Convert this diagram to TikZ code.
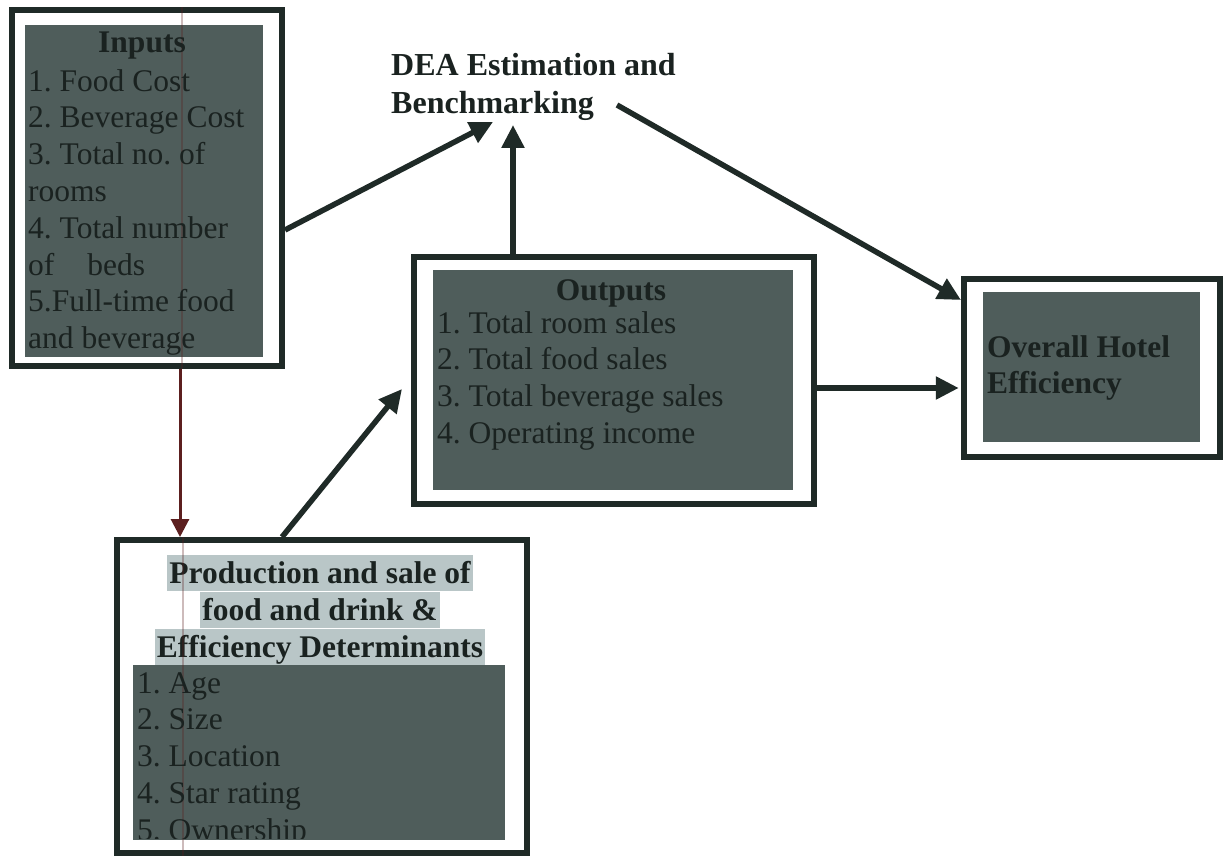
\documentclass[tikz,border=0pt]{standalone}
\usepackage{fontspec}
\setmainfont{Liberation Serif}
\usetikzlibrary{arrows.meta}
\definecolor{framec}{HTML}{1F2A27}
\definecolor{fillc}{HTML}{4F5D5B}
\definecolor{txtc}{HTML}{1A2220}
\definecolor{hlc}{HTML}{B9C6C7}
\definecolor{redc}{HTML}{5C1F1F}
\frenchspacing
\tikzset{
 frame/.style={draw=framec, line width=6pt, fill=white, inner sep=0pt},
 darkfill/.style={fill=fillc, draw=none, inner sep=0pt},
 body/.style={font=\fontsize{31.5}{36.8}\selectfont\frenchspacing, text=txtc, inner sep=0pt, align=left},
 bodyb/.style={body, font=\fontsize{31.5}{36.8}\selectfont\bfseries},
 hl/.style={bodyb, fill=hlc, text height=28pt, text depth=8pt, inner xsep=2pt, inner ysep=0pt},
 conn/.style={draw=framec, line width=5.5pt, -{Triangle[length=23pt,width=22pt]}},
 redconn/.style={draw=redc, line width=3pt, -{Triangle[length=18pt,width=18pt]}},
 faint/.style={draw=redc, opacity=0.3, line width=1.5pt},
}
\begin{document}
\begin{tikzpicture}[x=1pt,y=-1pt]
\useasboundingbox (0,0) rectangle (1227,856);
\fill[white] (0,0) rectangle (1227,856);

% Inputs box (multi-line nodes are placed by the baseline of their last line)
\node[frame, minimum width=270pt, minimum height=356pt] (inF) at (147,188) {};
\node[darkfill, minimum width=238pt, minimum height=332pt] (inB) at (144,191) {};
\draw[faint] (inF.north -| 182,0) -- (inF.south -| 182,0);
\node[bodyb, anchor=base] (inT) at (142,53) {Inputs};
\node[body, anchor=base west] (inL) at (28,348.6) {1. Food Cost\\2. Beverage Cost\\3. Total no. of\\rooms\\4. Total number\\of\hspace{33pt}beds\\5.Full-time food\\and beverage};

% Outputs box
\node[frame, minimum width=400pt, minimum height=247pt] (outF) at (613.5,380) {};
\node[darkfill, minimum width=360pt, minimum height=220pt] (outB) at (613,380) {};
\node[bodyb, anchor=base] (outT) at (611,300) {Outputs};
\node[body, anchor=base west] (outL) at (437,443.4) {1. Total room sales\\2. Total food sales\\3. Total beverage sales\\4. Operating income};

% Overall box
\node[frame, minimum width=256.5pt, minimum height=178pt] (ovF) at (1092,367.5) {};
\node[darkfill, minimum width=217pt, minimum height=150pt] (ovB) at (1091.5,367) {};
\node[bodyb, anchor=base west, font=\fontsize{31.5}{36}\selectfont\bfseries] (ovT) at (987,393) {Overall Hotel\\Efficiency};

% Production box
\node[frame, minimum width=410pt, minimum height=313pt] (prF) at (321.5,696.5) {};
\node[darkfill, minimum width=372pt, minimum height=175pt] (prB) at (319,752.5) {};
\node[hl, anchor=base] (prT1) at (320,583) {Production and sale of};
\node[hl, anchor=base] (prT2) at (320,620) {food and drink \&};
\node[hl, anchor=base] (prT3) at (320,657) {Efficiency Determinants};
\draw[faint] (prF.north -| 183,0) -- (prF.south -| 183,0);
\begin{scope}
\clip (prB.north west) rectangle (505,838);
\node[body, anchor=base west] (prL) at (137,840.2) {1. Age\\2. Size\\3. Location\\4. Star rating\\5. Ownership};
\end{scope}

% DEA title
\node[bodyb, anchor=base west, font=\fontsize{32}{37.5}\selectfont\bfseries] (dea) at (391,113.5) {DEA Estimation and\\Benchmarking};

% connector end points
\coordinate (deaIn1) at (493,122);
\coordinate (deaIn2) at (513,125);
\coordinate (deaOut) at (617,105);
\coordinate (ovIn1) at (961,300);
\coordinate (outIn) at (402,389);

% connectors
\draw[conn] (inF.east |- 0,230) -- (deaIn1);
\draw[conn] (outF.north -| 513,0) -- (deaIn2);
\draw[conn] (deaOut) -- (ovIn1);
\draw[conn, shorten >=2pt] (outF.east |- 0,388) -- (ovF.west |- 0,388);
\draw[redconn] (inF.south -| 180,0) -- (prF.north -| 180,0);
\draw[conn] (prF.north -| 282,0) -- (outIn);
\end{tikzpicture}
\end{document}
